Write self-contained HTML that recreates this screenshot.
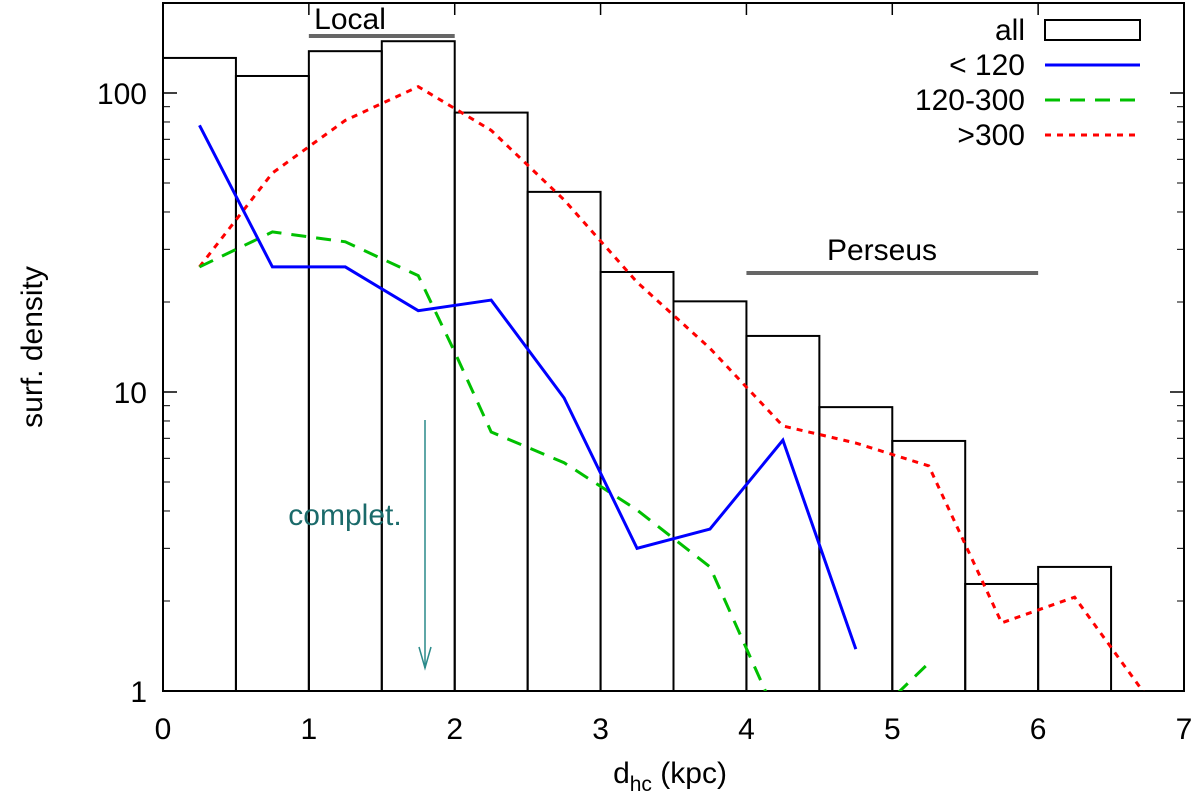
<!DOCTYPE html>
<html><head><meta charset="utf-8"><style>
body{margin:0;background:#fff;}
svg{display:block;font-family:"Liberation Sans",sans-serif;}
</style></head><body>
<svg id="chart" width="1200" height="802"></svg>
<script>
const binEdges=[0,0.5,1,1.5,2,2.5,3,3.5,4,4.5,5,5.5,6,6.5];
const allCounts=[131,114,138,149,86,46.7,25.2,20.1,15.4,8.9,6.86,2.28,2.6];
const midX=[0.25,0.75,1.25,1.75,2.25,2.75,3.25,3.75,4.25,4.75,5.25,5.75,6.25,6.75];
const lt120=[78,26.2,26.2,18.7,20.3,9.55,3.0,3.48,6.9,1.38];
const mid120_300=[26.2,34.3,31.8,24.5,13.6,7.35,5.8,4.03,2.6,0.74,0.72,1.24];
const mid120_300X=[0.25,0.75,1.25,1.75,2.0,2.25,2.75,3.25,3.75,4.25,4.75,5.25];
const gt300=[26.2,54,81,105,75,43.9,23.3,14,7.7,6.75,5.66,1.69,2.06,0.95];
const xTicks=[0,1,2,3,4,5,6,7];
const yTicks=[1,10,100];

const NS="http://www.w3.org/2000/svg";
const svg=document.getElementById('chart');
const X0=163,X1=1184,Y0=691,DEC=299,YT=3;
const FS=30;
const sx=v=>X0+(X1-X0)*v/7;
const sy=v=>Y0-DEC*Math.log10(v);
function mk(t,a,p){const e=document.createElementNS(NS,t);for(const k in a)e.setAttribute(k,a[k]);(p||svg).appendChild(e);return e;}

const defs=mk('defs',{});
const cp=mk('clipPath',{id:'plotclip'},defs);
mk('rect',{x:X0,y:YT,width:X1-X0,height:Y0-YT},cp);

for(let i=0;i<allCounts.length;i++){
  const r=mk('rect',{x:sx(binEdges[i]),y:sy(allCounts[i]),width:sx(binEdges[i+1])-sx(binEdges[i]),height:Y0-sy(allCounts[i]),fill:'none',stroke:'#000','stroke-width':2});
  
  
}
for(let d=0;d<3;d++)for(let m=2;m<=9;m++){const v=m*Math.pow(10,d);if(v>200)break;const y=sy(v);
  mk('line',{x1:X0,x2:X0+7,y1:y,y2:y,stroke:'#000','stroke-width':1});mk('line',{x1:X1,x2:X1-7,y1:y,y2:y,stroke:'#000','stroke-width':1});}
const fr=mk('rect',{x:X0,y:YT,width:X1-X0,height:Y0-YT,fill:'none',stroke:'#000','stroke-width':2});

xTicks.forEach(t=>{const x=sx(t);
  mk('line',{x1:x,x2:x,y1:Y0,y2:Y0-12,stroke:'#000','stroke-width':1.5});
  mk('line',{x1:x,x2:x,y1:YT,y2:YT+12,stroke:'#000','stroke-width':1.5});
  const tx=mk('text',{x:x,y:Y0+48,'text-anchor':'middle','font-size':FS});tx.textContent=t;
  });
yTicks.forEach(t=>{const y=sy(t);
  mk('line',{x1:X0,x2:X0+14,y1:y,y2:y,stroke:'#000','stroke-width':1.5});
  mk('line',{x1:X1,x2:X1-14,y1:y,y2:y,stroke:'#000','stroke-width':1.5});
  const tx=mk('text',{x:X0-16,y:y+11,'text-anchor':'end','font-size':FS});tx.textContent=t;
  });

function series(xs,vs,col,dash,name){
  const p=vs.map((v,i)=>sx(xs[i])+','+sy(v)).join(' ');
  const l=mk('polyline',{points:p,fill:'none',stroke:col,'stroke-width':3,'stroke-dasharray':dash,'clip-path':'url(#plotclip)'});
  
}
series(midX,gt300,'#ff0000','6 6','line-gt300');
series(mid120_300X,mid120_300,'#00c000','15 10','line-120-300');
series(midX,lt120,'#0000ff','','line-lt120');

const loc=mk('line',{x1:sx(1),x2:sx(2),y1:36,y2:36,stroke:'#666','stroke-width':4});

let t=mk('text',{x:350,y:29,'font-size':FS,'text-anchor':'middle'});t.textContent='Local';

const per=mk('line',{x1:sx(4),x2:sx(6),y1:273,y2:273,stroke:'#666','stroke-width':4});

t=mk('text',{x:882,y:260,'font-size':FS,'text-anchor':'middle'});t.textContent='Perseus';

const ar=mk('g',{stroke:'#2a8a8a','stroke-width':1.5,fill:'none'});

mk('line',{x1:425,x2:425,y1:420,y2:668},ar);mk('polyline',{points:'419,647 425,668 431,647'},ar);
t=mk('text',{x:345,y:525,'font-size':FS,'text-anchor':'middle',fill:'#1a6a6a'});t.textContent='complet.';


t=mk('text',{x:670,y:783,'font-size':FS,'text-anchor':'middle'});
t.innerHTML='d<tspan font-size="21" dy="8">hc</tspan><tspan dy="-8"> (kpc)</tspan>';

t=mk('text',{x:0,y:0,'font-size':FS,'text-anchor':'middle',transform:'translate(42,347) rotate(-90)'});t.textContent='surf. density';


const leg=[['all'],['< 120','#0000ff',''],['120-300','#00c000','15 10'],['>300','#ff0000','6 6']];
leg.forEach((e,i)=>{const y=30+i*35;
  const tx=mk('text',{x:1025,y:y+10,'font-size':FS,'text-anchor':'end'});tx.textContent=e[0];
  
  if(i===0)mk('rect',{x:1045,y:y-10,width:95,height:20,fill:'none',stroke:'#000','stroke-width':2});
  else mk('line',{x1:1045,x2:1140,y1:y,y2:y,stroke:e[1],'stroke-width':3,'stroke-dasharray':e[2]});
});
</script>
</body></html>
